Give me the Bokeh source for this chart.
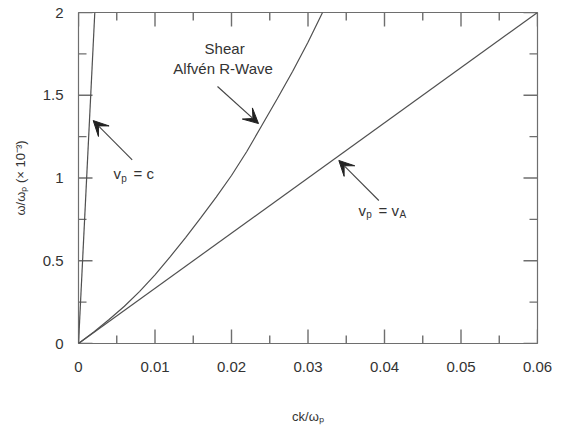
from bokeh.plotting import figure
from bokeh.models import (LinearAxis, Range1d, FixedTicker, Arrow, VeeHead,
                          CustomJSTickFormatter, ColumnDataSource)
from bokeh.core.properties import value
from bokeh.embed import file_html
from bokeh.resources import INLINE

# ---- data ----
x_ticks = [0, 0.01, 0.02, 0.03, 0.04, 0.05, 0.06]
x_tick_labels = ["0", "0.01", "0.02", "0.03", "0.04", "0.05", "0.06"]
x_minor = [0.005, 0.015, 0.025, 0.035, 0.045, 0.055]
y_ticks = [0, 0.5, 1, 1.5, 2]
y_tick_labels = ["0", "0.5", "1", "1.5", "2"]
y_minor = [0.25, 0.75, 1.25, 1.75]

light_x = [0, 0.00213]
light_y = [0, 2.0]

alfven_line_x = [0, 0.06]
alfven_line_y = [0, 2.0]

shear_x = [0, 0.002, 0.004, 0.006, 0.008, 0.010, 0.012, 0.014, 0.016, 0.018, 0.020,
           0.022, 0.024, 0.026, 0.028, 0.030, 0.0319]
shear_y = [0, 0.070, 0.145, 0.225, 0.315, 0.415, 0.525, 0.640, 0.760, 0.885, 1.015,
           1.160, 1.320, 1.480, 1.645, 1.820, 2.0]

FONT = "Liberation Sans"
TXT = "#333333"
LINE = "#505050"
AX = "#6e6e6e"

X0, X1, Y0, Y1 = 0.0, 0.06, 0.0, 2.0
p = figure(width=563, height=428, x_range=Range1d(X0, X1), y_range=Range1d(Y0, Y1),
           output_backend="svg", toolbar_location=None,
           min_border_left=78, min_border_right=26, min_border_top=12, min_border_bottom=85)
p.xaxis.visible = False
p.yaxis.visible = False
p.grid.visible = False
p.outline_line_color = AX
p.outline_line_width = 1.2
p.background_fill_color = "white"
p.border_fill_color = "white"

def fmt(tv, labs):
    return CustomJSTickFormatter(args=dict(tv=tv, labs=labs), code="""
        const i = tv.findIndex(t => Math.abs(t - tick) < 1e-9);
        return i >= 0 ? labs[i] : '';
    """)

def style(ax):
    ax.axis_line_color = None
    ax.major_tick_line_color = None
    ax.minor_tick_line_color = None
    ax.major_label_text_font = FONT
    ax.major_label_text_font_size = "15px"
    ax.major_label_text_color = TXT
    ax.axis_label_text_font = FONT
    ax.axis_label_text_font_size = "13px"
    ax.axis_label_text_font_style = "normal"
    ax.axis_label_text_color = TXT

xb = LinearAxis(ticker=FixedTicker(ticks=x_ticks, minor_ticks=x_minor),
                formatter=fmt(x_ticks, x_tick_labels), axis_label="ck/ωₚ")
style(xb)
xb.major_label_standoff = 12
xb.axis_label_standoff = 34
p.add_layout(xb, "below")

yl = LinearAxis(ticker=FixedTicker(ticks=y_ticks, minor_ticks=y_minor),
                formatter=fmt(y_ticks, y_tick_labels), axis_label="ω/ωₚ (× 10⁻³)")
style(yl)
yl.major_label_standoff = 9
yl.axis_label_standoff = 12
p.add_layout(yl, "left")

# ---- inward ticks on all four sides (lengths in px converted via the scales) ----
fw, fh = 459.0, 331.0
def tx(px): return px * (X1 - X0) / fw
def ty(px): return px * (Y1 - Y0) / fh

sx0, sy0, sx1, sy1 = [], [], [], []
for vals, L in ((x_ticks, 14), (x_minor, 8)):
    for v in vals:
        sx0 += [float(v), float(v)]
        sx1 += [float(v), float(v)]
        sy0 += [Y0, Y1]
        sy1 += [Y0 + ty(L), Y1 - ty(L)]
for vals, L in ((y_ticks, 14), (y_minor, 8)):
    for v in vals:
        sy0 += [float(v), float(v)]
        sy1 += [float(v), float(v)]
        sx0 += [X0, X1]
        sx1 += [X0 + tx(L), X1 - tx(L)]
tick_src = ColumnDataSource(dict(x0=sx0, y0=sy0, x1=sx1, y1=sy1))
p.segment(x0="x0", y0="y0", x1="x1", y1="y1", source=tick_src,
          line_color=AX, line_width=1.4)

# ---- curves ----
p.line(light_x, light_y, line_color=LINE, line_width=1.2)
p.line(alfven_line_x, alfven_line_y, line_color=LINE, line_width=1.2)
p.line(shear_x, shear_y, line_color=LINE, line_width=1.2)

# ---- annotations ----
def txt(x, y, s, size="15px", align="left"):
    p.text(x=[x], y=[y], text=[s], text_font=value(FONT), text_font_size=size,
           text_color=TXT, text_align=align, text_baseline="middle")

txt(0.01910, 1.782, "Shear", align="center")
txt(0.01890, 1.662, "Alfvén R-Wave", align="center")

# v_p = c
txt(0.00457, 1.027, "v")
txt(0.00560, 1.000, "p", size="10px")
txt(0.00719, 1.027, "= c")

# v_p = v_A
txt(0.03660, 0.804, "v")
txt(0.03763, 0.777, "p", size="10px")
txt(0.03922, 0.804, "= v")
txt(0.04196, 0.777, "A", size="10px")

def arrow(xs, ys, xe, ye):
    p.add_layout(Arrow(end=VeeHead(size=15, fill_color="#222222", line_color="#222222"),
                       x_start=xs, y_start=ys, x_end=xe, y_end=ye,
                       line_color="#444444", line_width=1.1))

arrow(0.01817, 1.553, 0.02353, 1.329)
arrow(0.00702, 1.110, 0.00192, 1.347)
arrow(0.03926, 0.864, 0.03403, 1.106)

open("out.html", "w").write(file_html(p, INLINE))
